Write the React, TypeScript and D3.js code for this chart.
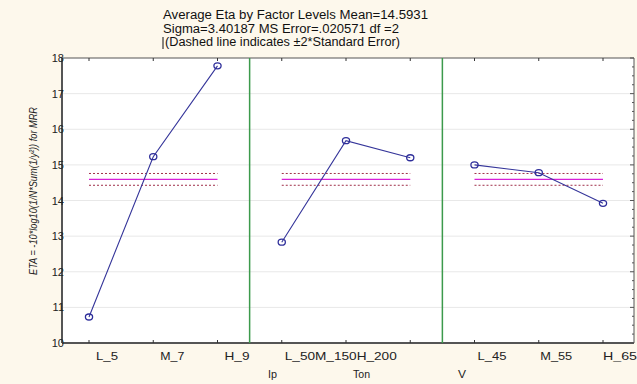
import React, { useRef, useEffect } from "react";
import * as d3 from "d3";

// chart data
const titleLines = [
  "Average Eta by Factor Levels Mean=14.5931",
  "Sigma=3.40187 MS Error=.020571 df =2",
  "(Dashed line indicates \u00b12*Standard Error)",
];
const factors = ["Ip", "Ton", "V"];
const levels = [
  ["L_5", "M_7", "H_9"],
  ["L_50", "M_150", "H_200"],
  ["L_45", "M_55", "H_65"],
];
const etaIp = [10.73, 15.23, 17.78];
const etaTon = [12.83, 15.68, 15.2];
const etaV = [15.0, 14.78, 13.92];
const grandMean = 14.5931;
const msError = 0.020571;
const yTicks = [10, 11, 12, 13, 14, 15, 16, 17, 18];

export default function App() {
  const ref = useRef<SVGSVGElement>(null);

  useEffect(() => {
    const width = 637;
    const height = 384;
    const m = { left: 62, right: 634, top: 58, bottom: 343 };
    const font = "Liberation Sans, Arial";
    const svg = d3.select(ref.current);
    svg.selectAll("*").remove();

    svg.append("rect").attr("width", width).attr("height", height).attr("fill", "#fdf8ec");
    svg
      .append("rect")
      .attr("x", m.left)
      .attr("y", m.top)
      .attr("width", m.right - m.left)
      .attr("height", m.bottom - m.top)
      .attr("fill", "#ffffff");

    const y = d3.scaleLinear().domain([10, 18]).range([m.bottom, m.top]);
    const x = d3.scalePoint<number>().domain(d3.range(9)).range([89, 603]);

    // grid
    svg
      .append("g")
      .selectAll("line")
      .data(yTicks.slice(1, -1))
      .enter()
      .append("line")
      .attr("x1", m.left)
      .attr("x2", m.right)
      .attr("y1", (d) => y(d))
      .attr("y2", (d) => y(d))
      .attr("stroke", "#e8e8e8");

    // frame
    const frame = svg.append("g").attr("stroke", "#555").attr("fill", "none");
    frame.append("line").attr("x1", m.left).attr("x2", m.right).attr("y1", m.top).attr("y2", m.top);
    frame.append("line").attr("x1", m.right).attr("x2", m.right).attr("y1", m.top).attr("y2", m.bottom);
    frame
      .append("line")
      .attr("x1", m.left)
      .attr("x2", m.right)
      .attr("y1", m.bottom)
      .attr("y2", m.bottom)
      .attr("stroke-width", 2);
    frame
      .append("line")
      .attr("x1", m.left)
      .attr("x2", m.left)
      .attr("y1", m.top)
      .attr("y2", m.bottom)
      .attr("stroke-width", 2);

    // right axis ticks (major + minor)
    const minor = d3.range(10, 18.01, 0.25);
    svg
      .append("g")
      .selectAll("line")
      .data(minor)
      .enter()
      .append("line")
      .attr("x1", m.right)
      .attr("x2", (d) => m.right - (Number.isInteger(d) ? 4 : 2))
      .attr("y1", (d) => y(d))
      .attr("y2", (d) => y(d))
      .attr("stroke", "#555");

    // x ticks top and bottom
    const xt = svg.append("g").attr("stroke", "#333");
    d3.range(9).forEach((i) => {
      xt.append("line").attr("x1", x(i)!).attr("x2", x(i)!).attr("y1", m.bottom).attr("y2", m.bottom - 3);
      xt.append("line").attr("x1", x(i)!).attr("x2", x(i)!).attr("y1", m.top).attr("y2", m.top + 3);
    });

    // y tick labels
    svg
      .append("g")
      .selectAll("text")
      .data(yTicks)
      .enter()
      .append("text")
      .attr("x", m.left + 2)
      .attr("y", (d) => y(d) + 4)
      .attr("text-anchor", "end")
      .attr("font-family", font)
      .attr("font-size", 11)
      .attr("fill", "#222")
      .text((d) => d);

    // panel separators
    [2.5, 5.5].forEach((p) => {
      const px = (x(Math.floor(p))! + x(Math.ceil(p))!) / 2;
      svg
        .append("line")
        .attr("x1", px)
        .attr("x2", px)
        .attr("y1", m.top)
        .attr("y2", m.bottom)
        .attr("stroke", "#3c9a4c")
        .attr("stroke-width", 1.5);
    });

    const se2 = 2 * Math.sqrt(msError / 3);
    const series = [etaIp, etaTon, etaV];
    series.forEach((vals, k) => {
      const x0 = x(k * 3)!;
      const x1 = x(k * 3 + 2)!;
      // mean and ±2SE
      [grandMean - se2, grandMean + se2].forEach((v) => {
        svg
          .append("line")
          .attr("x1", x0)
          .attr("x2", x1)
          .attr("y1", y(v))
          .attr("y2", y(v))
          .attr("stroke", "#a0304a")
          .attr("stroke-dasharray", "2,2");
      });
      svg
        .append("line")
        .attr("x1", x0)
        .attr("x2", x1)
        .attr("y1", y(grandMean))
        .attr("y2", y(grandMean))
        .attr("stroke", "#d81fd8")
        .attr("stroke-width", 1.3);

      const line = d3
        .line<number>()
        .x((_, i) => x(k * 3 + i)!)
        .y((d) => y(d));
      svg
        .append("path")
        .datum(vals)
        .attr("d", line)
        .attr("fill", "none")
        .attr("stroke", "#35359a")
        .attr("stroke-width", 1.1);
      svg
        .append("g")
        .selectAll("ellipse")
        .data(vals)
        .enter()
        .append("ellipse")
        .attr("cx", (_, i) => x(k * 3 + i)!)
        .attr("cy", (d) => y(d))
        .attr("rx", 3.6)
        .attr("ry", 3)
        .attr("fill", "none")
        .attr("stroke", "#2e2e9a")
        .attr("stroke-width", 1.3);
    });

    // level labels (the original is stretched sideways, so fix widths)
    const lab = svg.append("g").attr("font-family", font).attr("font-size", 11).attr("fill", "#222");
    const addText = (t: string, tx: number, ty: number, w: number) =>
      lab
        .append("text")
        .attr("x", tx)
        .attr("y", ty)
        .attr("textLength", w)
        .attr("lengthAdjust", "spacingAndGlyphs")
        .text(t);
    const w0 = [22, 24, 25];
    levels[0].forEach((t, i) => addText(t, x(i)! + 7, 360, w0[i]));
    // Ton labels run together in the original
    addText(levels[1].join(""), x(3)! + 3, 360, 112);
    const w2 = [29, 32, 34];
    levels[2].forEach((t, i) => addText(t, x(6 + i)! + 3 - i * 1.5, 360, w2[i]));
    // factor names
    const fx = [268, 353, 458];
    const fw = [9, 17, 8];
    factors.forEach((f, i) => addText(f, fx[i], 378, fw[i]));

    // y axis title
    svg
      .append("text")
      .attr("transform", `translate(37,191) rotate(-90)`)
      .attr("text-anchor", "middle")
      .attr("font-family", font)
      .attr("font-style", "italic")
      .attr("font-size", 10.5)
      .attr("fill", "#222")
      .attr("textLength", 168)
      .attr("lengthAdjust", "spacingAndGlyphs")
      .text("ETA = -10*log10(1/N*Sum(1/y\u00b2)) for MRR");

    // title
    const tt = svg.append("g").attr("font-family", font).attr("font-size", 12).attr("fill", "#111");
    const tw = [265, 236, 235];
    titleLines.forEach((t, i) => {
      tt.append("text")
        .attr("x", i === 2 ? 165 : 163)
        .attr("y", 19 + i * 13.5)
        .attr("textLength", tw[i])
        .attr("lengthAdjust", "spacingAndGlyphs")
        .text(t);
    });
    // text cursor mark before the last title line
    svg.append("line").attr("x1", 163).attr("x2", 163).attr("y1", 37).attr("y2", 49).attr("stroke", "#111");
  }, []);

  return (
    <svg
      ref={ref}
      width={637}
      height={384}
      style={{ position: "absolute", left: 0, top: 0, display: "block" }}
    ></svg>
  );
}
